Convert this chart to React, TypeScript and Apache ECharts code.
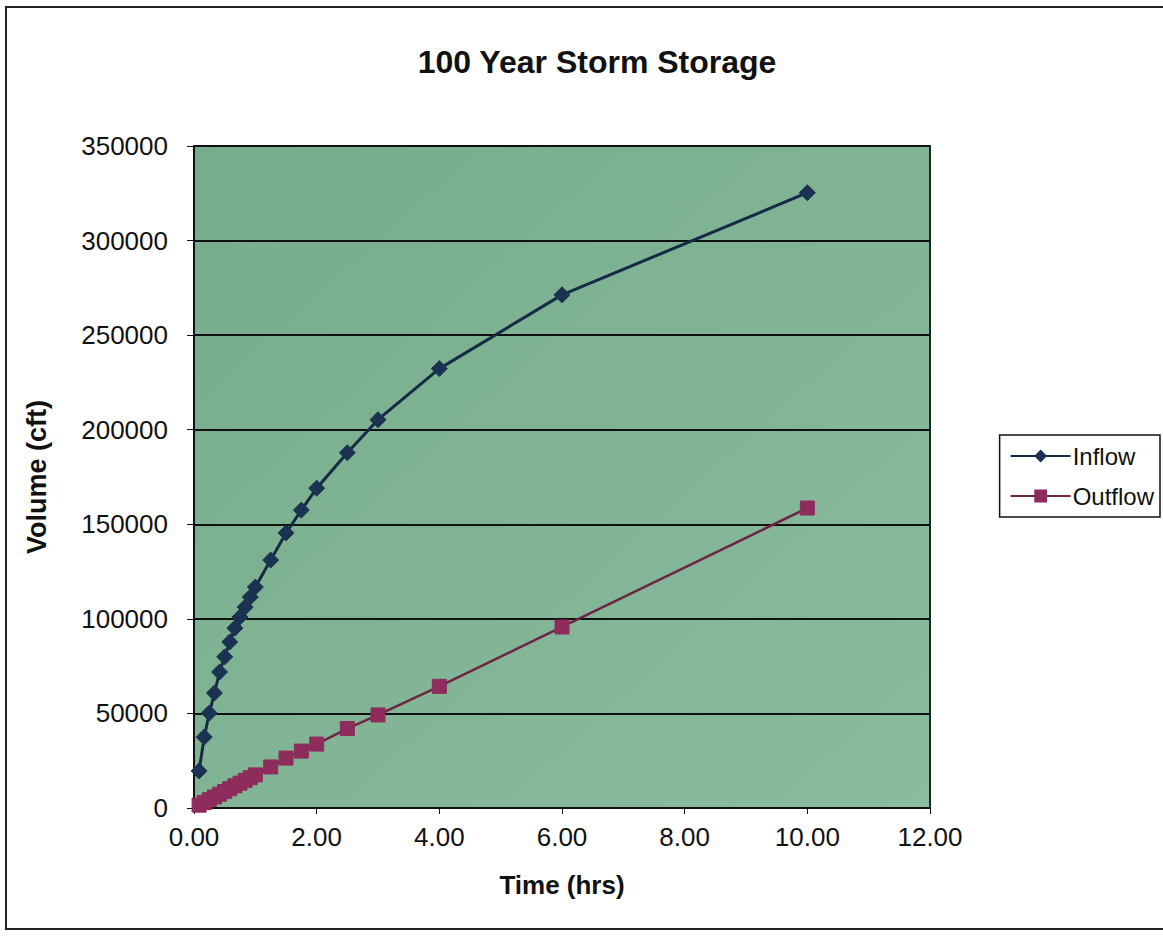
import React, { useEffect, useRef } from "react";
import * as echarts from "echarts";

const timeHrs = [0.083, 0.167, 0.25, 0.333, 0.417, 0.5, 0.583, 0.667, 0.75, 0.833, 0.917, 1.0, 1.25, 1.5, 1.75, 2.0, 2.5, 3.0, 4.0, 6.0, 10.0];
const inflow = [19600, 37500, 50200, 60800, 71900, 79900, 87800, 95100, 101000, 106200, 111500, 116800, 131100, 145400, 157500, 169100, 187800, 205300, 232300, 271300, 325300];
const outflow = [1500, 2900, 4400, 5800, 7300, 8700, 10200, 11700, 13100, 14600, 16000, 17500, 21700, 26400, 30100, 33800, 42000, 49200, 64300, 95700, 158600];

const titleText = "100 Year Storm Storage";
const xName = "Time (hrs)";
const yName = "Volume (cft)";

export default function App() {
  const ref = useRef<HTMLDivElement>(null);
  useEffect(() => {
    if (!ref.current) return;
    const chart = echarts.init(ref.current, null, { renderer: "svg" });
    const font = "'Liberation Sans', Arial, sans-serif";
    chart.setOption({
      animation: false,
      backgroundColor: "#ffffff",
      textStyle: { fontFamily: font },
      title: {
        text: titleText,
        left: 592,
        textAlign: "center",
        top: 41,
        textStyle: { fontSize: 32, fontWeight: "bold", color: "#111", fontFamily: font },
      },
      graphic: [
        {
          type: "rect",
          shape: { x: 6, y: 7, width: 1200, height: 922 },
          style: { fill: "none", stroke: "#222", lineWidth: 2 },
          silent: true,
          z: -1,
        },
      ],
      legend: {
        right: 3,
        top: 435,
        orient: "vertical",
        backgroundColor: "#ffffff",
        borderColor: "#111",
        borderWidth: 1.5,
        borderRadius: 0,
        padding: [9, 6, 9, 10],
        itemGap: 16,
        itemWidth: 60,
        itemHeight: 16,
        textStyle: { fontSize: 24, color: "#111", fontFamily: font, padding: [0, 0, 0, -3] },
        data: ["Inflow", "Outflow"],
      },
      grid: {
        left: 194,
        right: 233,
        top: 146,
        bottom: 128,
        show: true,
        borderColor: "#1a2a1f",
        borderWidth: 2,
        backgroundColor: new echarts.graphic.LinearGradient(0, 0, 1, 1, [
          { offset: 0, color: "#76ac8b" },
          { offset: 0.5, color: "#80b494" },
          { offset: 1, color: "#8abc9d" },
        ]),
      },
      xAxis: {
        type: "value",
        min: 0,
        max: 12,
        interval: 2,
        name: xName,
        nameLocation: "middle",
        nameGap: 64,
        nameTextStyle: { fontSize: 26, fontWeight: "bold", color: "#111", fontFamily: font },
        axisLine: { show: true, lineStyle: { color: "#111", width: 2 } },
        axisTick: { show: true, length: 6, inside: false, lineStyle: { color: "#111" } },
        axisLabel: {
          fontSize: 26,
          color: "#111",
          margin: 16,
          formatter: (v: number) => v.toFixed(2),
        },
        splitLine: { show: false },
      },
      yAxis: {
        type: "value",
        min: 0,
        max: 350000,
        interval: 50000,
        name: yName,
        nameLocation: "middle",
        nameGap: 144,
        nameTextStyle: { fontSize: 27, fontWeight: "bold", color: "#111", fontFamily: font },
        axisLine: { show: true, lineStyle: { color: "#111", width: 2 } },
        axisTick: { show: true, length: 7, lineStyle: { color: "#111" } },
        axisLabel: { fontSize: 26, color: "#111", margin: 26, formatter: (v: number) => String(v) },
        splitLine: { show: true, lineStyle: { color: "#111", width: 2 } },
      },
      series: [
        {
          name: "Inflow",
          type: "line",
          data: timeHrs.map((t, i) => [t, inflow[i]]),
          symbol: "diamond",
          symbolSize: 16,
          lineStyle: { color: "#152a45", width: 3 },
          itemStyle: { color: "#1b3350", borderColor: "#1b3350" },
        },
        {
          name: "Outflow",
          type: "line",
          data: timeHrs.map((t, i) => [t, outflow[i]]),
          symbol: "rect",
          symbolSize: 14,
          lineStyle: { color: "#6e2444", width: 2.5 },
          itemStyle: { color: "#8e2c5c", borderColor: "#8e2c5c" },
        },
      ],
    });
    return () => chart.dispose();
  }, []);
  return (
    <div
      ref={ref}
      style={{ position: "absolute", left: 0, top: 0, width: 1163, height: 936 }}
    />
  );
}
